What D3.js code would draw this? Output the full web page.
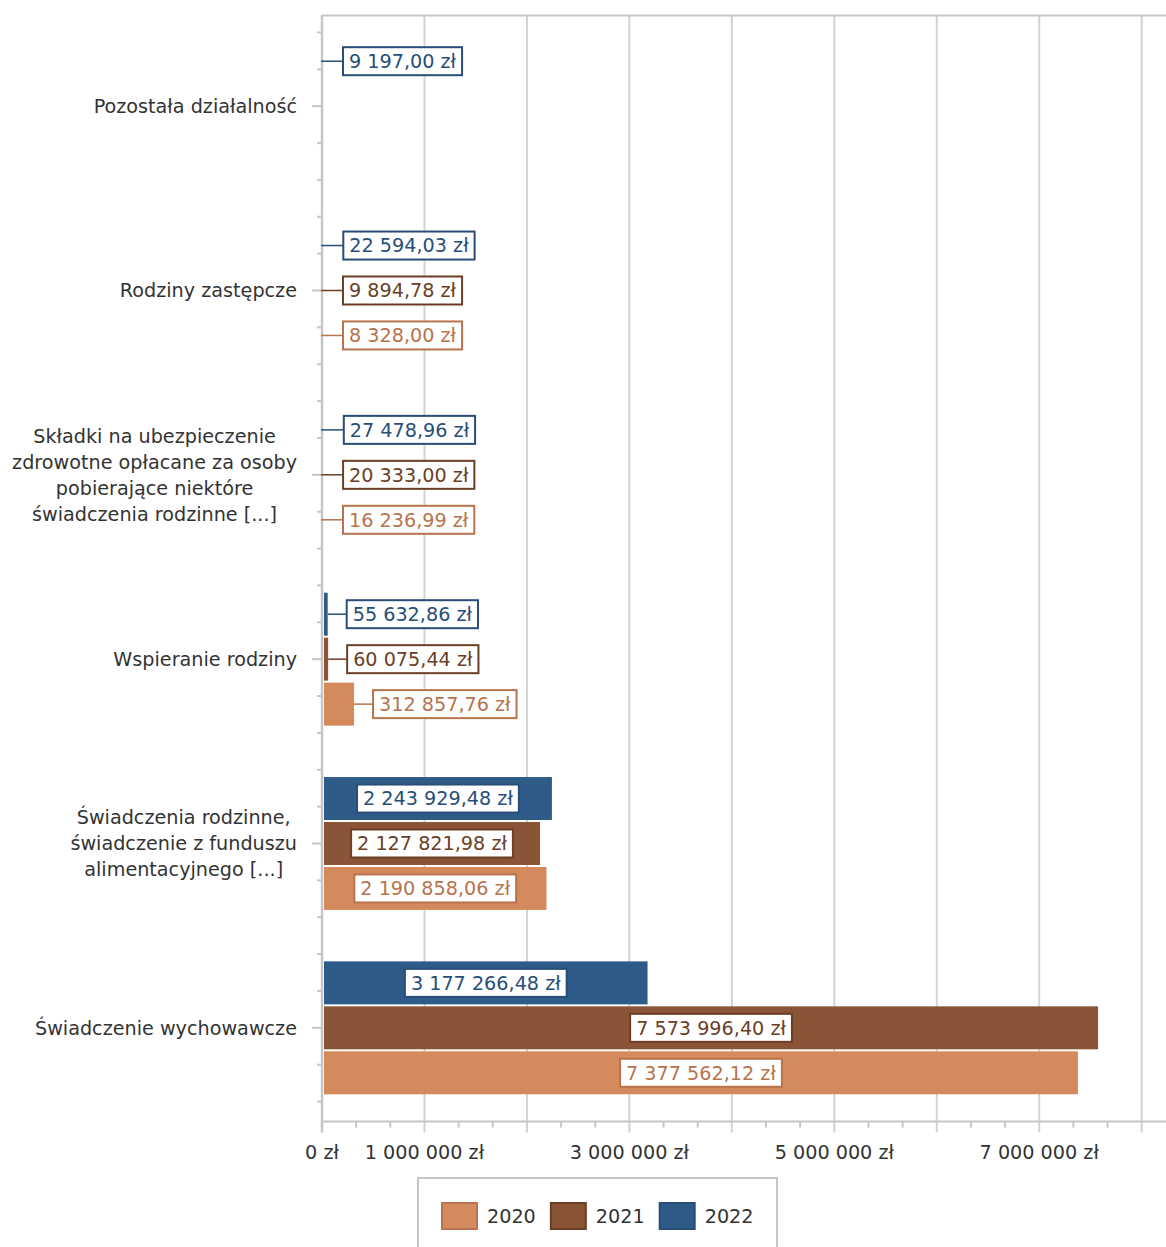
<!DOCTYPE html>
<html><head><meta charset="utf-8">
<script src="https://cdn.jsdelivr.net/npm/d3@7"></script>
<style>
body{margin:0;background:#fff}
svg{display:block}
text{font-family:"DejaVu Sans",Verdana,sans-serif}
</style>
</head><body>
<svg id="chart" width="1166" height="1247"></svg>
<script>
const categories = [
  "Pozostała działalność",
  "Rodziny zastępcze",
  "Składki na ubezpieczenie zdrowotne opłacane za osoby pobierające niektóre świadczenia rodzinne [...]",
  "Wspieranie rodziny",
  "Świadczenia rodzinne, świadczenie z funduszu alimentacyjnego [...]",
  "Świadczenie wychowawcze"
];
const categoryLines = [
  ["Pozostała działalność"],
  ["Rodziny zastępcze"],
  ["Składki na ubezpieczenie", "zdrowotne opłacane za osoby", "pobierające niektóre", "świadczenia rodzinne [...]"],
  ["Wspieranie rodziny"],
  ["Świadczenia rodzinne,", "świadczenie z funduszu", "alimentacyjnego [...]"],
  ["Świadczenie wychowawcze"]
];
const years = ["2022", "2021", "2020"];
const values2020 = [null, 8328.00, 16236.99, 312857.76, 2190858.06, 7377562.12];
const values2021 = [null, 9894.78, 20333.00, 60075.44, 2127821.98, 7573996.40];
const values2022 = [9197.00, 22594.03, 27478.96, 55632.86, 2243929.48, 3177266.48];
const xTickValues = [0, 1e6, 2e6, 3e6, 4e6, 5e6, 6e6, 7e6, 8e6];
const xTickLabels = ["0 zł", "1 000 000 zł", "", "3 000 000 zł", "", "5 000 000 zł", "", "7 000 000 zł", ""];
const legendLabels = ["2020", "2021", "2022"];

(function(){
const fillColor = {"2020": "#D58A5E", "2021": "#8A5536", "2022": "#2F5B88"};
const darkColor = {"2020": "#B8734C", "2021": "#6B3F26", "2022": "#284E78"};
const seriesValues = {"2020": values2020, "2021": values2021, "2022": values2022};

const plMoney = d3.formatLocale({decimal: ",", thousands: " ", grouping: [3], currency: ["", " zł"]});
const fmt = v => plMoney.format(",.2f")(v) + " zł";

const svg = d3.select("#chart");
const pLeft = 322, pRight = 1166, pTop = 14, pBottom = 1120, axisY = 1121.5;
const x = d3.scaleLinear().domain([0, 8e6]).range([pLeft, 1141.7]);
const y0 = d3.scaleBand().domain(categories).range([pTop, pBottom]).padding(0);
const y1 = d3.scaleBand().domain(years).range([0, y0.bandwidth()]).paddingInner(2/45).paddingOuter(0.572);

const gridColor = "#D2D2D2", axisColor = "#C6C6C6", textColor = "#333333";
const FS = 19.2;

// gridlines
svg.append("g").selectAll("line").data(xTickValues.slice(1)).join("line")
  .attr("x1", d => x(d)).attr("x2", d => x(d))
  .attr("y1", 15).attr("y2", axisY + 11)
  .attr("stroke", gridColor).attr("stroke-width", 2);

// minor x ticks
const minor = d3.range(0, 25).map(i => i * 1e6 / 3).filter((d, i) => i % 3 !== 0);
svg.append("g").selectAll("line").data(minor).join("line")
  .attr("x1", d => x(d)).attr("x2", d => x(d))
  .attr("y1", axisY).attr("y2", axisY + 6)
  .attr("stroke", axisColor).attr("stroke-width", 2);

// top border and bottom axis
svg.append("line").attr("x1", pLeft).attr("x2", pRight).attr("y1", 15.5).attr("y2", 15.5)
  .attr("stroke", axisColor).attr("stroke-width", 2);
svg.append("line").attr("x1", pLeft - 1).attr("x2", pRight).attr("y1", axisY).attr("y2", axisY)
  .attr("stroke", axisColor).attr("stroke-width", 2);

// y ticks
const step = (pBottom - pTop) / 30;
const yTicks = d3.range(30).map(i => ({y: pTop + step * (i + 0.5), major: i % 5 === 2}));
svg.append("g").selectAll("line").data(yTicks).join("line")
  .attr("x1", d => d.major ? pLeft - 10 : pLeft - 5).attr("x2", pLeft)
  .attr("y1", d => d.y).attr("y2", d => d.y)
  .attr("stroke", axisColor).attr("stroke-width", 2);

// x tick labels
svg.append("g").selectAll("text").data(xTickValues).join("text")
  .attr("x", d => x(d)).attr("y", 1152).attr("dy", "0.35em")
  .attr("text-anchor", "middle").attr("font-size", FS).attr("fill", textColor)
  .text((d, i) => xTickLabels[i]);

// category labels
categories.forEach((c, i) => {
  const lines = categoryLines[i];
  const cy = y0(c) + y0.bandwidth() / 2;
  const g = svg.append("g");
  const texts = g.selectAll("text").data(lines).join("text")
    .attr("y", (d, k) => cy + (k - (lines.length - 1) / 2) * 26)
    .attr("dy", "0.35em").attr("font-size", FS).attr("fill", textColor)
    .attr("text-anchor", "middle").text(d => d);
  let maxW = 0;
  texts.each(function(){ maxW = Math.max(maxW, this.getComputedTextLength()); });
  texts.attr("x", 297 - maxW / 2);
});

// bars
const barData = [];
categories.forEach((c, i) => {
  years.forEach(yr => {
    const v = seriesValues[yr][i];
    if (v != null) barData.push({cat: c, year: yr, value: v});
  });
});

const barW = d => { const w = x(d.value) - x(0) - 2; return w < 1 ? 0 : w; };
svg.append("g").selectAll("rect").data(barData).join("rect")
  .attr("x", x(0) + 2)
  .attr("y", d => y0(d.cat) + y1(d.year))
  .attr("width", barW)
  .attr("height", y1.bandwidth())
  .attr("fill", d => fillColor[d.year]);

// left axis line
svg.append("line").attr("x1", pLeft).attr("x2", pLeft).attr("y1", 15).attr("y2", axisY + 11)
  .attr("stroke", axisColor).attr("stroke-width", 2.5);

// value labels
const lg = svg.append("g");
barData.forEach(d => {
  const cy = y0(d.cat) + y1(d.year) + y1.bandwidth() / 2;
  const g = lg.append("g");
  const t = g.append("text").attr("font-size", FS).attr("fill", darkColor[d.year])
    .attr("dy", "0.35em").attr("y", cy).text(fmt(d.value));
  const tw = t.node().getComputedTextLength();
  const bw = tw + 12, bh = 28;
  const fullW = x(d.value) - x(0);
  let bx;
  if (bw + 20 < fullW) {
    bx = x(0) + 1 + fullW / 2 - bw / 2;
  } else {
    bx = Math.max(x(d.value), x(0) + 2) + 19;
    g.insert("line", "text").attr("x1", x(d.value) > x(0) + 4 ? x(d.value) : x(0) - 1).attr("x2", bx)
      .attr("y1", cy).attr("y2", cy)
      .attr("stroke", darkColor[d.year]).attr("stroke-width", 1.5);
  }
  g.insert("rect", "text").attr("x", bx).attr("y", cy - bh / 2).attr("width", bw).attr("height", bh)
    .attr("fill", "#fff").attr("stroke", darkColor[d.year]).attr("stroke-width", 2);
  t.attr("x", bx + 6);
});

// legend
const legend = svg.append("g");
legend.append("rect").attr("x", 418).attr("y", 1178).attr("width", 359).attr("height", 90)
  .attr("fill", "#fff").attr("stroke", axisColor).attr("stroke-width", 2);
let lx = 441;
legendLabels.forEach(yr => {
  legend.append("rect").attr("x", lx + 1).attr("y", 1203).attr("width", 35).attr("height", 26)
    .attr("fill", fillColor[yr]).attr("stroke", darkColor[yr]).attr("stroke-width", 2);
  const t = legend.append("text").attr("x", lx + 46).attr("y", 1216).attr("dy", "0.35em")
    .attr("font-size", FS).attr("fill", textColor).text(yr);
  lx += 46 + t.node().getComputedTextLength() + 14;
});
})();
</script>
</body></html>
